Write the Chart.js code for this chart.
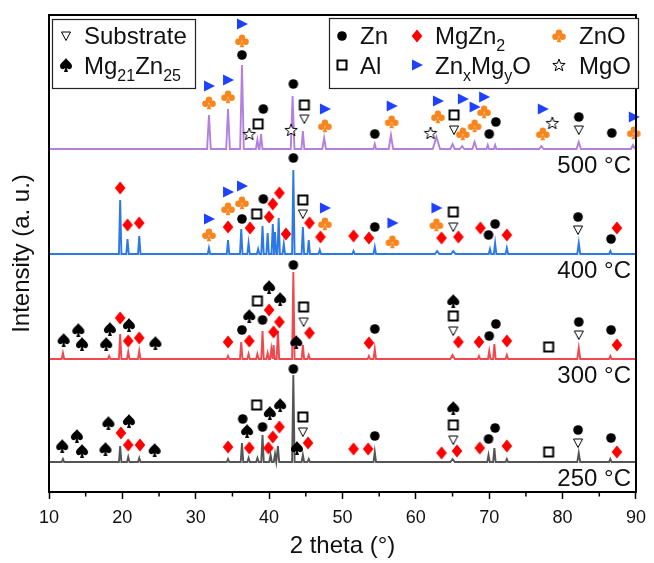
<!DOCTYPE html>
<html><head><meta charset="utf-8">
<script src="https://cdn.jsdelivr.net/npm/chart.js@4.4.1/dist/chart.umd.min.js"></script>
<style>html,body{margin:0;padding:0;background:#fff}#wrap{width:654px;height:563px}</style>
</head><body><div id="wrap"><canvas id="c" width="654" height="563"></canvas></div>
<script>
const FONT = '"Liberation Sans", Arial, sans-serif';

// Samples (bottom to top) and their vertical offsets (a.u.)
const samples = ['250 °C', '300 °C', '400 °C', '500 °C'];
const offsets = [30, 133, 238, 343];
const traceColors = ['#555555', '#f0484e', '#2a79e6', '#b381dd'];

// Diffraction peaks: [2θ (°), intensity above baseline (a.u.), half width (°)]
const peaks250 = [[11.9,3],[19.7,16],[20.8,5],[22.3,4],[34.4,3],[36.3,19],[37.2,4],[38.4,4],[39.1,27],[40.2,7],[40.8,8],[41.2,16],[43.3,87],[44.6,7],[45.4,3],[54.4,10],[65.0,3,0.3],[69.9,7],[70.7,14],[72.4,3],[82.2,9,0.2],[86.5,3]];
const peaks300 = [[11.9,6],[18.2,3],[19.7,25],[20.8,7],[22.3,8],[34.4,3],[36.2,17],[37.2,5],[38.4,5],[39.1,28],[39.8,6],[40.3,10],[40.6,14],[41.2,28],[43.3,87],[44.6,14],[45.4,4],[53.6,3],[54.4,10],[65.0,4,0.3],[68.6,3],[70.0,8],[70.7,15],[72.4,4],[82.2,11,0.2],[86.5,3]];
const peaks400 = [[19.7,54],[20.7,15],[22.3,18],[31.8,6],[34.4,14],[36.2,25],[37.2,11],[38.5,5],[39.1,28],[39.8,21],[40.5,30],[40.8,22],[41.3,36],[42.0,10],[43.3,84],[44.6,27],[45.4,14],[46.9,4],[51.5,3],[54.4,7],[62.9,3,0.3],[65.1,3,0.3],[70.1,5],[70.8,11],[72.4,6],[82.2,11,0.2],[86.5,3]];
const peaks500 = [[31.8,34,0.25],[34.4,40,0.25],[36.3,84,0.25],[38.4,9,0.2],[38.9,15,0.2],[43.2,53,0.25],[44.6,18,0.2],[47.5,11,0.25],[54.4,5],[56.6,14,0.3],[62.8,12,0.5],[65.0,5,0.3],[66.3,3,0.3],[68.0,7,0.3],[69.8,4],[70.8,4],[77.1,3,0.3],[82.2,7,0.3],[89.6,4,0.3]];
const peakSets = [peaks250, peaks300, peaks400, peaks500];

// Phase markers per sample: [phase, 2θ (°), level above baseline (a.u.)]
const markers250 = [
 ['mgzn25',11.8,16],['mgzn25',13.8,26],['mgzn25',14.5,11],['mgzn25',17.7,13],['mgzn25',18.1,39],
 ['mgzn2',19.8,29],['mgzn25',20.9,41],['mgzn2',20.8,17],['mgzn2',22.4,17],['mgzn25',24.4,12],
 ['mgzn2',34.4,15],['zn',36.4,43],['mgzn25',37.0,31],['mgzn2',37.3,14],['al',38.3,57],['zn',39.1,35],
 ['mgzn25',40.1,49],['mgzn2',39.9,14],['mgzn2',40.5,25],['mgzn25',41.5,57],['mgzn2',41.4,35],
 ['zn',43.3,93],['mgzn25',43.8,14],['al',44.6,45],['sub',44.6,30],['mgzn2',45.3,19],
 ['mgzn2',51.5,13],['mgzn2',53.5,13],['zn',54.4,26],['mgzn2',63.5,9],['mgzn25',65.1,54],['al',65.1,37],['sub',65.1,22],['mgzn2',65.6,11],
 ['mgzn2',68.7,14],['zn',69.9,23],['zn',70.8,34],['mgzn2',72.4,16],['al',78.1,10],['zn',82.1,32],['sub',82.1,19],['zn',86.6,24],['mgzn2',87.4,10]
];
const markers300 = [
 ['mgzn25',12.0,19],['mgzn25',14.0,29],['mgzn25',14.5,15],['mgzn25',17.8,15],['mgzn25',18.3,30],
 ['mgzn2',19.7,41],['mgzn25',20.9,34],['mgzn2',20.8,18],['mgzn2',22.3,21],['mgzn25',24.5,16],
 ['mgzn2',34.4,17],['zn',36.3,29],['mgzn2',37.3,18],['mgzn25',37.3,43],['al',38.4,58],['zn',39.1,39],
 ['mgzn25',40.0,72],['mgzn2',40.0,49],['mgzn2',40.6,27],['mgzn25',41.5,60],['mgzn2',41.4,37],
 ['zn',43.3,94],['mgzn25',43.7,17],['al',44.7,52],['sub',44.7,37],['mgzn2',45.5,26],
 ['mgzn2',53.6,16],['zn',54.4,30],['mgzn25',65.1,58],['al',65.1,43],['sub',65.1,28],['mgzn2',65.8,17],
 ['mgzn2',68.6,17],['zn',70.0,23],['zn',70.9,35],['mgzn2',72.4,18],['al',78.1,12],['zn',82.2,37],['sub',82.2,24],['zn',86.6,29],['mgzn2',87.4,14]
];
const markers400 = [
 ['mgzn2',19.7,66],['mgzn2',20.7,29],['mgzn2',22.3,31],
 ['znmgo',31.8,35],['zno',31.8,19],
 ['znmgo',34.4,62],['zno',34.4,45],['mgzn2',34.4,27],
 ['znmgo',36.3,68],['zno',36.3,51],['zn',36.3,35],
 ['mgzn2',37.4,26],['al',38.3,40],['zn',39.2,55],['mgzn2',40.0,37],['mgzn2',40.5,50],['mgzn2',41.4,61],['mgzn2',42.3,20],
 ['zn',43.3,96],['al',44.6,54],['sub',44.6,40],['mgzn2',45.5,31],['mgzn2',47.0,17],['znmgo',47.6,46],['zno',47.6,30],
 ['mgzn2',51.5,18],['mgzn2',53.6,16],['zn',54.4,27],['znmgo',56.8,31],['zno',56.8,12],
 ['znmgo',62.8,46],['zno',62.8,29],['mgzn2',63.5,16],['al',65.1,42],['sub',65.1,27],['mgzn2',65.8,17],
 ['mgzn2',68.8,26],['zn',69.9,19],['zn',70.8,30],['mgzn2',72.4,19],['zn',82.1,37],['sub',82.1,24],['zn',86.6,15],['mgzn2',87.4,26]
];
const markers500 = [
 ['znmgo',31.8,63],['zno',31.8,46],
 ['znmgo',34.4,69],['zno',34.4,52],
 ['znmgo',36.3,125],['zno',36.3,108],['zn',36.3,94],
 ['mgo',37.3,15],['al',38.5,25],['zn',39.2,40],['mgo',43.0,19],['zn',43.3,65],['al',44.8,44],['sub',44.8,30],
 ['znmgo',47.6,40],['zno',47.6,23],['zn',54.4,15],['znmgo',56.7,43],['zno',56.7,27],
 ['mgo',62.0,16],['znmgo',63.0,48],['zno',63.0,32],['al',65.2,34],['sub',65.2,19],
 ['znmgo',66.4,50],['zno',66.4,15],['znmgo',68.0,42],['zno',68.0,23],['znmgo',69.3,52],['zno',69.3,37],
 ['zn',70.0,15],['zn',70.9,27],['znmgo',77.3,40],['zno',77.3,15],['mgo',78.6,26],['zn',82.2,32],['sub',82.2,19],['zn',86.7,16],['znmgo',89.7,32],['zno',89.7,16]
];
const markerSets = [markers250, markers300, markers400, markers500];

// Phase names (with subscripts as segments)
const phaseKeys = ['sub','mgzn25','zn','mgzn2','zno','al','znmgo','mgo'];
const phaseNames = {
  sub: [['Substrate',0]],
  mgzn25: [['Mg',0],['21',1],['Zn',0],['25',1]],
  zn: [['Zn',0]],
  mgzn2: [['MgZn',0],['2',1]],
  zno: [['ZnO',0]],
  al: [['Al',0]],
  znmgo: [['Zn',0],['x',1],['Mg',0],['y',1],['O',0]],
  mgo: [['MgO',0]]
};

// ---------- marker glyphs ----------
function mk(w, h, draw) {
  const c = document.createElement('canvas'); c.width = w; c.height = h;
  const g = c.getContext('2d'); g.translate(w / 2, h / 2); draw(g); return c;
}
const glyphs = {
  zn: mk(12, 12, g => { g.beginPath(); g.arc(0, 0, 4.8, 0, 2 * Math.PI); g.fillStyle = '#000'; g.fill(); }),
  al: mk(14, 14, g => { g.lineWidth = 2; g.strokeStyle = '#000'; g.strokeRect(-4.5, -4.5, 9, 9); }),
  sub: mk(12, 12, g => { g.beginPath(); g.moveTo(-4.5, -4); g.lineTo(4.5, -4); g.lineTo(0, 4.5); g.closePath(); g.lineWidth = 1; g.strokeStyle = '#000'; g.stroke(); }),
  znmgo: mk(14, 14, g => { g.beginPath(); g.moveTo(-5, -5.5); g.lineTo(6, 0); g.lineTo(-5, 5.5); g.closePath(); g.fillStyle = '#1e40ff'; g.fill(); }),
  mgzn2: mk(14, 16, g => { g.beginPath(); g.moveTo(0, -6.5); g.lineTo(5.3, 0); g.lineTo(0, 6.5); g.lineTo(-5.3, 0); g.closePath(); g.fillStyle = '#ff0000'; g.fill(); }),
  zno: mk(16, 16, g => { g.fillStyle = '#f7861e'; [[0,-3.2],[-3.6,0.7],[3.6,0.7]].forEach(([x,y]) => { g.beginPath(); g.arc(x, y, 3.2, 0, 2*Math.PI); g.fill(); });
        g.beginPath(); g.moveTo(0, 0); g.lineTo(-2.3, 6.2); g.lineTo(2.3, 6.2); g.closePath(); g.fill(); }),
  mgzn25: mk(16, 16, g => { g.fillStyle = '#000'; g.beginPath(); g.moveTo(0, -7);
        g.bezierCurveTo(2, -3.5, 6.3, -1.8, 6, 1.6); g.bezierCurveTo(5.6, 4.6, 2.2, 5, 0.7, 2.8);
        g.lineTo(2, 7); g.lineTo(-2, 7); g.lineTo(-0.7, 2.8);
        g.bezierCurveTo(-2.2, 5, -5.6, 4.6, -6, 1.6); g.bezierCurveTo(-6.3, -1.8, -2, -3.5, 0, -7); g.closePath(); g.fill(); }),
  mgo: mk(16, 16, g => { g.beginPath(); for (let i = 0; i < 10; i++) { const r = i % 2 ? 2.7 : 6.5; const a = -Math.PI / 2 + i * Math.PI / 5; g.lineTo(r * Math.cos(a), r * Math.sin(a) + 0.5); }
        g.closePath(); g.fillStyle = '#fff'; g.fill(); g.lineWidth = 1; g.strokeStyle = '#000'; g.stroke(); })
};

// ---------- datasets ----------
function buildTrace(peaks, off) {
  const pts = [{ x: 10, y: off }];
  peaks.forEach(([p, h, w]) => { const hw = w || 0.17; pts.push({ x: p - hw, y: off }, { x: p, y: off + h }, { x: p + hw, y: off }); });
  pts.push({ x: 90, y: off });
  return pts;
}
const datasets = [];
phaseKeys.forEach(k => {
  const data = [];
  markerSets.forEach((set, i) => set.forEach(([ph, x, lv]) => { if (ph === k) data.push({ x: x, y: offsets[i] + lv }); }));
  datasets.push({ label: k, data, showLine: false, pointStyle: glyphs[k], pointRadius: 5, order: 0, clip: false });
});
samples.forEach((s, i) => {
  datasets.push({ label: s, isTrace: true, data: buildTrace(peakSets[i], offsets[i]), showLine: true, borderColor: traceColors[i],
    borderWidth: 1.9, pointRadius: 0, tension: 0, order: 1, baseline: offsets[i] });
});

// ---------- plugins ----------
const framePlugin = {
  id: 'frame',
  afterDatasetsDraw(chart) {
    const { ctx, chartArea: a, scales: { x } } = chart;
    ctx.save(); ctx.strokeStyle = '#000'; ctx.lineWidth = 2;
    ctx.strokeRect(a.left, a.top, a.right - a.left, a.bottom - a.top);
    ctx.lineWidth = 1.5; ctx.beginPath();
    for (let v = 15; v < 90; v += 10) { const px = x.getPixelForValue(v); ctx.moveTo(px, a.bottom); ctx.lineTo(px, a.bottom + 4.5); }
    ctx.stroke(); ctx.restore();
  }
};
const labelPlugin = {
  id: 'sampleLabels',
  afterDatasetsDraw(chart) {
    const { ctx, chartArea: a, scales: { y } } = chart;
    ctx.save(); ctx.fillStyle = '#111'; ctx.font = '24px ' + FONT; ctx.textAlign = 'right'; ctx.textBaseline = 'alphabetic';
    chart.data.datasets.filter(d => d.isTrace).forEach(d => { ctx.fillText(d.label, a.right - 5, y.getPixelForValue(d.baseline) + 24); });
    ctx.restore();
  }
};
function drawRich(ctx, x, y, segs) {
  segs.forEach(([t, sub]) => {
    ctx.font = (sub ? '16px ' : '24px ') + FONT;
    ctx.fillText(t, x, sub ? y + 7 : y);
    x += ctx.measureText(t).width;
  });
}
const legendPlugin = {
  id: 'phaseLegend',
  afterDraw(chart) {
    const { ctx } = chart;
    ctx.save();
    ctx.fillStyle = '#fff'; ctx.strokeStyle = '#222'; ctx.lineWidth = 1.2;
    ctx.fillRect(52, 19, 143, 69); ctx.strokeRect(52.5, 19.5, 143, 69);
    ctx.fillRect(329, 18, 309, 70); ctx.strokeRect(329.5, 18.5, 309, 70);
    const items = [
      ['sub', 66, 36, 84, 44], ['mgzn25', 66, 65, 84, 73.5],
      ['zn', 342, 36, 360, 44], ['al', 342, 65, 360, 73.5],
      ['mgzn2', 417, 36, 435, 44], ['znmgo', 417, 65, 435, 73.5],
      ['zno', 559, 36, 579, 44], ['mgo', 559, 65, 579, 73.5]
    ];
    ctx.fillStyle = '#111'; ctx.textAlign = 'left'; ctx.textBaseline = 'alphabetic';
    items.forEach(([k, sx, sy, tx, ty]) => {
      const gl = glyphs[k]; ctx.drawImage(gl, Math.round(sx - gl.width / 2), Math.round(sy - gl.height / 2));
      drawRich(ctx, tx, ty, phaseNames[k]);
    });
    ctx.restore();
  }
};

new Chart(document.getElementById('c'), {
  type: 'scatter',
  data: { datasets },
  options: {
    responsive: false, animation: false, events: [],
    layout: { padding: { top: 15, right: 12, left: 0, bottom: 0 } },
    plugins: { legend: { display: false }, tooltip: { enabled: false } },
    scales: {
      x: {
        type: 'linear', min: 10, max: 90,
        ticks: { stepSize: 10, autoSkip: false, maxRotation: 0, padding: 8, color: '#111', font: { family: FONT, size: 18 } },
        grid: { display: true, drawOnChartArea: false, drawTicks: true, tickLength: 7, tickWidth: 1.5, tickColor: '#000' },
        border: { display: false },
        title: { display: true, text: '2 theta (°)', color: '#111', font: { family: FONT, size: 24 }, padding: { top: 0, bottom: 2 } },
        afterFit(s) { s.height = 71; }
      },
      y: {
        type: 'linear', min: 0, max: 477,
        ticks: { display: false }, grid: { display: false }, border: { display: false },
        title: { display: true, text: 'Intensity (a. u.)', color: '#111', font: { family: FONT, size: 24 }, padding: { top: 8, bottom: 0 } },
        afterFit(s) { s.width = 49; }
      }
    }
  },
  plugins: [framePlugin, labelPlugin, legendPlugin]
});
</script></body></html>
